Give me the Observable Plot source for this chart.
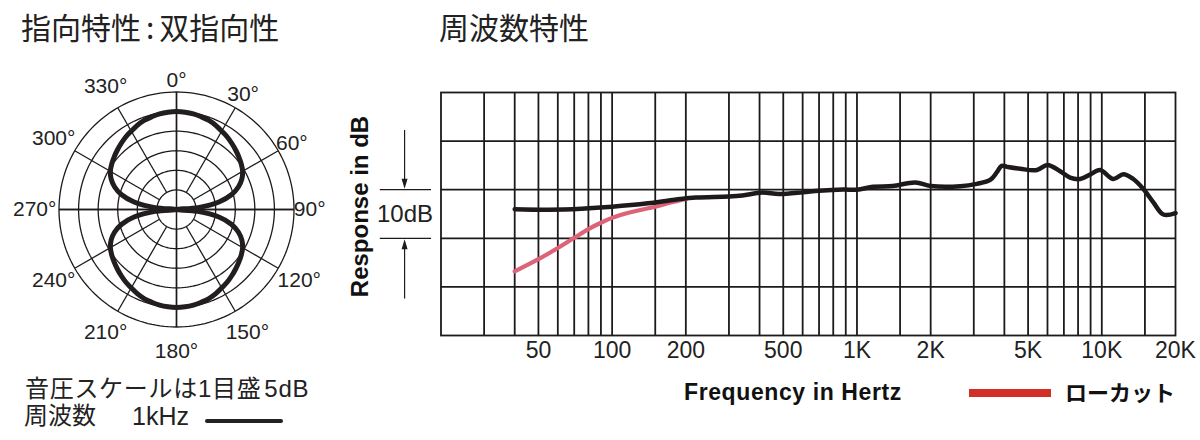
<!DOCTYPE html>
<html><head><meta charset="utf-8">
<script src="https://cdn.jsdelivr.net/npm/d3@7"></script>
<script src="https://cdn.jsdelivr.net/npm/@observablehq/plot@0.6"></script>
<style>
body{margin:0;background:#fff}
#wrap{position:relative;width:1200px;height:440px;overflow:hidden;font-family:"Liberation Sans","Noto Sans CJK JP",sans-serif;color:#222}
.t{position:absolute;white-space:nowrap;line-height:1}
#polar,#freq{position:absolute}
#polar{left:0;top:60px}
#freq{left:340px;top:60px}
</style></head><body>
<div id="wrap">
  <div class="t" style="left:21px;top:11px;font-size:30px;font-family:'Noto Sans CJK JP'">指向特性<span style="padding:0 5px">:</span>双指向性</div>
  <div class="t" style="left:439px;top:11px;font-size:30px;font-family:'Noto Sans CJK JP'">周波数特性</div>
  <div id="polar"></div>
  <div id="freq"></div>
  <div class="t" style="left:25px;top:377px;font-size:24px;letter-spacing:0.7px">音圧スケールは1目盛<span style="padding-left:3px">5dB</span></div>
  <div class="t" style="left:24px;top:404px;font-size:24px">周波数</div>
  <div class="t" style="left:132px;top:404px;font-size:25px">1kHz</div>
  <div style="position:absolute;left:205px;top:419px;width:78px;height:4px;background:#222;border-radius:2px"></div>
  <div class="t" style="left:684px;top:381px;font-size:23px;font-weight:bold;letter-spacing:0.6px;color:#111">Frequency in Hertz</div>
  <div style="position:absolute;left:969px;top:389px;width:82px;height:8px;background:#d22f27"></div>
  <div class="t" style="left:1065px;top:380px;font-size:22px;font-weight:bold;font-family:'Noto Sans CJK JP';color:#111">ローカット</div>
</div>
<script>
// ---------- polar (directional) data ----------
const polarAngles = d3.range(0, 360, 5);
const polarDb = [
  -5.0,-5.05,-5.2,-5.5,-5.8,-6.3,-6.9,-7.4,-8.0,-8.6,-9.2,-9.8,-10.5,-11.6,-13.2,-15.5,-19.0,-24.5,
  -30.0,-24.5,-19.0,-15.5,-13.2,-11.6,-10.5,-9.8,-9.2,-8.6,-8.0,-7.4,-6.9,-6.3,-5.8,-5.5,-5.2,-5.05,
  -5.0,-5.05,-5.2,-5.5,-5.8,-6.3,-6.9,-7.4,-8.0,-8.6,-9.2,-9.8,-10.5,-11.6,-13.2,-15.5,-19.0,-24.5,
  -30.0,-24.5,-19.0,-15.5,-13.2,-11.6,-10.5,-9.8,-9.2,-8.6,-8.0,-7.4,-6.9,-6.3,-5.8,-5.5,-5.2,-5.05
];
const ringDb = [0, -5, -10, -15, -20, -25];
const spokeAngles = [0, 30, 60, 90, 120, 150, 180, 210, 240, 270, 300, 330];
const angleLabels = ["0°","30°","60°","90°","120°","150°","180°","210°","240°","270°","300°","330°"];
const floorDb = -30;

// ---------- frequency response data ----------
const freqGrid = [30,40,50,60,70,80,90,100,150,200,300,400,500,600,700,800,900,1000,1500,2000,3000,4000,5000,6000,7000,8000,9000,10000,15000];
const dbGrid = [10, 0, -10, -20];
const tickFreqs = [50,100,200,500,1000,2000,5000,10000,20000];
const tickLabels = ["50","100","200","500","1K","2K","5K","10K","20K"];
const respFreq = [40,55,75,100,140,190,220,300,340,410,480,600,700,880,1000,1165,1400,1730,2000,2640,3090,3500,3730,3900,4100,4640,5430,6000,6760,7420,8150,8950,9840,11150,12250,13450,14780,16240,17840,20000];
const respDb   = [-4.0,-4.1,-3.9,-3.5,-2.8,-1.9,-1.6,-1.4,-1.2,-0.6,-0.9,-0.55,-0.2,0.05,0,0.6,0.75,1.5,0.75,0.7,1.2,2.0,3.6,4.9,4.7,4.3,4.05,5.1,3.8,2.5,2.2,3.1,4.05,2.2,3.2,2.2,0.15,-2.6,-5.1,-4.8];
const lowcutFreq = [40,50,60,70,80,90,100,120,150,175,200];
const lowcutDb   = [-16.8,-14.3,-12.0,-9.9,-8.1,-6.8,-5.8,-4.6,-3.5,-2.6,-1.9];
// 10 dB bracket annotation (left of the grid)
const bracketDb = [0, -10];
const bracketHz = 14.2;
const bracketSpanHz = [11.3, 18.3];

// ---------- polar chart ----------
const rad = a => a * Math.PI / 180;
const rr = db => Math.max(0, db - floorDb);
const px = (a, db) => rr(db) * Math.sin(rad(a));
const py = (a, db) => rr(db) * Math.cos(rad(a));
const ink = "#1c1a1a";

const lobe = polarAngles.map((a, i) => ({a, db: polarDb[i]}));
const rings = ringDb.flatMap(db => d3.range(0, 361, 2).map(a => ({a, db})));
const spokes = spokeAngles.map(a => ({a, inner: ringDb[ringDb.length - 1], outer: ringDb[0]}));
const diameters = [0, 90];
const labelOffset = {2: 3.1, 3: 4.0, 4: 6.2};
const labels = spokeAngles.map((a, i) => ({a, label: angleLabels[i], off: labelOffset[angleLabels[i].length]}));

const polar = Plot.plot({
  width: 340, height: 310,
  marginLeft: 58.5, marginRight: 46.5, marginTop: 31.5, marginBottom: 43.5,
  x: {domain: [-30, 30], axis: null},
  y: {domain: [-30, 30], axis: null},
  style: {background: "transparent", overflow: "visible", fontFamily: "Liberation Sans"},
  marks: [
    Plot.line(rings, {x: d => px(d.a, d.db), y: d => py(d.a, d.db), z: "db", stroke: ink, strokeWidth: 1.3}),
    Plot.link(spokes, {x1: d => px(d.a, d.inner), y1: d => py(d.a, d.inner), x2: d => px(d.a, d.outer), y2: d => py(d.a, d.outer), stroke: ink, strokeWidth: 1.3}),
    Plot.link(diameters, {x1: a => px(a, 0), y1: a => py(a, 0), x2: a => px(a + 180, 0), y2: a => py(a + 180, 0), stroke: ink, strokeWidth: 1.5}),
    Plot.line(lobe, {x: d => px(d.a, d.db), y: d => py(d.a, d.db), curve: "catmull-rom-closed", stroke: "#221e1f", strokeWidth: 5, strokeLinejoin: "round"}),
    Plot.text(labels, {x: d => px(d.a, d.off), y: d => py(d.a, d.off), text: "label", fontSize: 21, fill: "#222"})
  ]
});
document.getElementById("polar").append(polar);

// ---------- frequency chart ----------
const arrowDown = {draw(ctx) { ctx.moveTo(0, 0); ctx.lineTo(-3, -10); ctx.lineTo(3, -10); ctx.closePath(); }};
const arrowUp = {draw(ctx) { ctx.moveTo(0, 0); ctx.lineTo(-3, 10); ctx.lineTo(3, 10); ctx.closePath(); }};
const resp = respFreq.map((f, i) => ({f, db: respDb[i]}));
const lowcut = lowcutFreq.map((f, i) => ({f, db: lowcutDb[i]}));

const freq = Plot.plot({
  width: 860, height: 320,
  marginLeft: 100.5, marginRight: 25, marginTop: 32, marginBottom: 45,
  x: {type: "log", domain: [20, 20000], axis: null},
  y: {domain: [-30, 20], axis: null},
  style: {background: "transparent", overflow: "visible", fontFamily: "Liberation Sans"},
  marks: [
    Plot.ruleX(freqGrid, {stroke: ink, strokeWidth: 1.8}),
    Plot.ruleY(dbGrid, {stroke: ink, strokeWidth: 1.8}),
    Plot.frame({stroke: ink, strokeWidth: 1.8}),
    Plot.ruleY(bracketDb, {x1: bracketSpanHz[0], x2: bracketSpanHz[1], stroke: ink, strokeWidth: 1.3}),
    Plot.link([{y1: 12.3, y2: 1.5}, {y1: -22.4, y2: -11.5}], {x1: bracketHz, x2: bracketHz, y1: "y1", y2: "y2", stroke: ink, strokeWidth: 1.2}),
    Plot.dot([0.2], {x: () => bracketHz, y: d => d, symbol: arrowDown, fill: ink, stroke: "none"}),
    Plot.dot([-10.2], {x: () => bracketHz, y: d => d, symbol: arrowUp, fill: ink, stroke: "none"}),
    Plot.text(["10dB"], {y: () => (bracketDb[0] + bracketDb[1]) / 2, frameAnchor: "left", textAnchor: "middle", dx: -36, text: d => d, fontSize: 24, fill: "#222"}),
    Plot.text(["Response in dB"], {frameAnchor: "left", textAnchor: "middle", dx: -80.5, dy: -7.5, rotate: -90, text: d => d, fontSize: 24, fontWeight: "bold", fill: "#111"}),
    Plot.text(tickFreqs, {x: d => d, text: (d, i) => tickLabels[i], frameAnchor: "bottom", dy: 22, fontSize: 23, fill: "#222"}),
    Plot.line(lowcut, {x: "f", y: "db", curve: "catmull-rom", stroke: "#dc6378", strokeWidth: 4.2, strokeLinecap: "round"}),
    Plot.line(resp, {x: "f", y: "db", curve: "catmull-rom", stroke: "#1e1a1b", strokeWidth: 4.5, strokeLinecap: "round", strokeLinejoin: "round"})
  ]
});
document.getElementById("freq").append(freq);
</script>
</body></html>
